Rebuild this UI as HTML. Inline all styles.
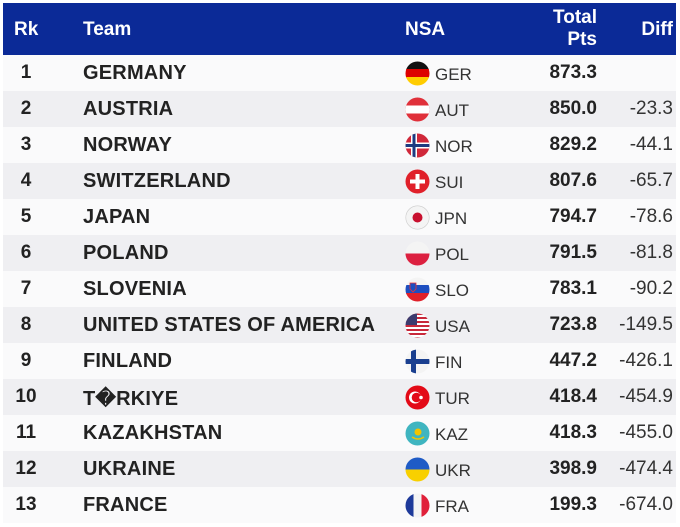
<!DOCTYPE html>
<html><head><meta charset="utf-8"><style>
body{margin:0;width:680px;height:527px;background:#fff;font-family:"Liberation Sans",Arial,sans-serif;position:relative;overflow:hidden}
.hdr{position:absolute;left:3px;top:3px;width:673px;height:52px;background:#0b2a97;color:#fff;font-weight:bold;font-size:19px}
.hdr span{position:absolute}
.row{position:absolute;left:3px;width:673px;height:36px;font-size:19px;color:#222}
.row span{position:absolute;top:7px}
.rk{left:0;width:46px;text-align:center;font-weight:bold}
.tm{left:80px;font-weight:bold;font-size:20px;letter-spacing:0.2px}
.ns{left:432px;font-size:17px;top:10px!important;color:#333}
.tp{right:79px;font-weight:bold}
.df{right:3px;color:#333}
svg.f{position:absolute;left:402px;top:6px;width:25px;height:25px}
</style></head><body>
<div class="hdr"><span style="left:11px;top:16px">Rk</span><span style="left:80px;top:16px">Team</span><span style="left:402px;top:16px">NSA</span><span style="right:79px;top:4px;text-align:right;line-height:22px">Total<br>Pts</span><span style="right:3px;top:16px">Diff</span></div>
<svg width="0" height="0" style="position:absolute"><defs><clipPath id="c"><circle cx="12.5" cy="12.5" r="12"/></clipPath></defs></svg>

<div class="row" style="top:55px;background:#fafafb"><span class="rk">1</span><span class="tm">GERMANY</span><svg class="f"><g clip-path="url(#c)"><rect width="25" height="9" fill="#111"/><rect y="8" width="25" height="9" fill="#d00"/><rect y="16" width="25" height="9" fill="#fc0"/></g></svg><span class="ns">GER</span><span class="tp">873.3</span><span class="df"></span></div>
<div class="row" style="top:91px;background:#efeff2"><span class="rk">2</span><span class="tm">AUSTRIA</span><svg class="f"><g clip-path="url(#c)"><rect width="25" height="25" fill="#e0303a"/><rect y="8.5" width="25" height="8" fill="#fff"/></g></svg><span class="ns">AUT</span><span class="tp">850.0</span><span class="df">-23.3</span></div>
<div class="row" style="top:127px;background:#fafafb"><span class="rk">3</span><span class="tm">NORWAY</span><svg class="f"><g clip-path="url(#c)"><rect width="25" height="25" fill="#d0283a"/><rect x="6" width="6" height="25" fill="#fff"/><rect y="9.5" width="25" height="6" fill="#fff"/><rect x="7.5" width="3" height="25" fill="#1d3a80"/><rect y="11" width="25" height="3" fill="#1d3a80"/></g></svg><span class="ns">NOR</span><span class="tp">829.2</span><span class="df">-44.1</span></div>
<div class="row" style="top:163px;background:#efeff2"><span class="rk">4</span><span class="tm">SWITZERLAND</span><svg class="f"><g clip-path="url(#c)"><rect width="25" height="25" fill="#e0202a"/><rect x="10.5" y="5" width="4" height="15" fill="#fff"/><rect x="5" y="10.5" width="15" height="4" fill="#fff"/></g></svg><span class="ns">SUI</span><span class="tp">807.6</span><span class="df">-65.7</span></div>
<div class="row" style="top:199px;background:#fafafb"><span class="rk">5</span><span class="tm">JAPAN</span><svg class="f"><g clip-path="url(#c)"><rect width="25" height="25" fill="#f4f4f4"/><circle cx="12.5" cy="12.5" r="5" fill="#c8102e"/></g><circle cx="12.5" cy="12.5" r="11.7" fill="none" stroke="#ccc" stroke-width=".6"/></svg><span class="ns">JPN</span><span class="tp">794.7</span><span class="df">-78.6</span></div>
<div class="row" style="top:235px;background:#efeff2"><span class="rk">6</span><span class="tm">POLAND</span><svg class="f"><g clip-path="url(#c)"><rect width="25" height="25" fill="#f4f4f4"/><rect y="12.5" width="25" height="13" fill="#dc2040"/></g></svg><span class="ns">POL</span><span class="tp">791.5</span><span class="df">-81.8</span></div>
<div class="row" style="top:271px;background:#fafafb"><span class="rk">7</span><span class="tm">SLOVENIA</span><svg class="f"><g clip-path="url(#c)"><rect width="25" height="9" fill="#f4f4f4"/><rect y="8" width="25" height="9" fill="#1d4ec0"/><rect y="16" width="25" height="9" fill="#e0202a"/><path d="M5 6h6v6l-3 3-3-3z" fill="#1d4ec0" stroke="#e33" stroke-width=".8"/></g></svg><span class="ns">SLO</span><span class="tp">783.1</span><span class="df">-90.2</span></div>
<div class="row" style="top:307px;background:#efeff2"><span class="rk">8</span><span class="tm">UNITED STATES OF AMERICA</span><svg class="f"><g clip-path="url(#c)"><rect width="25" height="25" fill="#fff"/><g fill="#c8283a"><rect y="0" width="25" height="2"/><rect y="4" width="25" height="2"/><rect y="8" width="25" height="2"/><rect y="12" width="25" height="2"/><rect y="16" width="25" height="2"/><rect y="20" width="25" height="2"/><rect y="24" width="25" height="2"/></g><rect width="12" height="12" fill="#3c3b6e"/></g></svg><span class="ns">USA</span><span class="tp">723.8</span><span class="df">-149.5</span></div>
<div class="row" style="top:343px;background:#fafafb"><span class="rk">9</span><span class="tm">FINLAND</span><svg class="f"><g clip-path="url(#c)"><rect width="25" height="25" fill="#f4f4f4"/><rect x="6" width="5" height="25" fill="#1a3f8f"/><rect y="10" width="25" height="5" fill="#1a3f8f"/></g></svg><span class="ns">FIN</span><span class="tp">447.2</span><span class="df">-426.1</span></div>
<div class="row" style="top:379px;background:#efeff2"><span class="rk">10</span><span class="tm">T�RKIYE</span><svg class="f"><g clip-path="url(#c)"><rect width="25" height="25" fill="#e30a17"/><circle cx="10" cy="12.5" r="6" fill="#fff"/><circle cx="11.5" cy="12.5" r="4.8" fill="#e30a17"/><circle cx="16" cy="12.5" r="1.8" fill="#fff"/></g></svg><span class="ns">TUR</span><span class="tp">418.4</span><span class="df">-454.9</span></div>
<div class="row" style="top:415px;background:#fafafb"><span class="rk">11</span><span class="tm">KAZAKHSTAN</span><svg class="f"><g clip-path="url(#c)"><rect width="25" height="25" fill="#3fb5c0"/><circle cx="13" cy="11" r="3.5" fill="#f2c400"/><path d="M7 16q6 4 12 0" stroke="#f2c400" stroke-width="1.5" fill="none"/></g></svg><span class="ns">KAZ</span><span class="tp">418.3</span><span class="df">-455.0</span></div>
<div class="row" style="top:451px;background:#efeff2"><span class="rk">12</span><span class="tm">UKRAINE</span><svg class="f"><g clip-path="url(#c)"><rect width="25" height="13" fill="#1e5bc6"/><rect y="12.5" width="25" height="13" fill="#f8d000"/></g></svg><span class="ns">UKR</span><span class="tp">398.9</span><span class="df">-474.4</span></div>
<div class="row" style="top:487px;background:#fafafb"><span class="rk">13</span><span class="tm">FRANCE</span><svg class="f"><g clip-path="url(#c)"><rect width="9" height="25" fill="#1e3a9a"/><rect x="8.5" width="8" height="25" fill="#f4f4f4"/><rect x="16.5" width="9" height="25" fill="#e0203a"/></g></svg><span class="ns">FRA</span><span class="tp">199.3</span><span class="df">-674.0</span></div>
</body></html>
